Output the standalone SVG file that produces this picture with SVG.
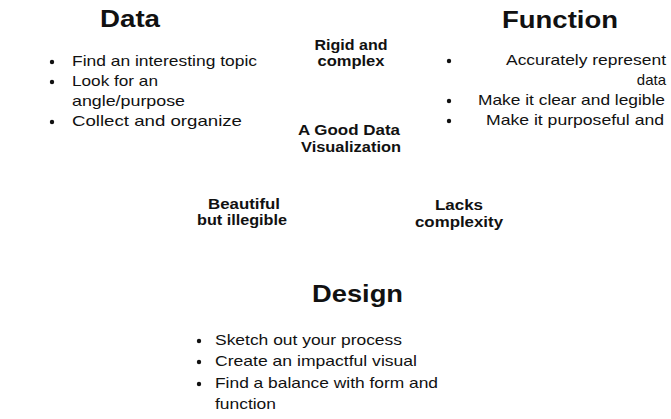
<svg xmlns="http://www.w3.org/2000/svg" width="671" height="419" viewBox="0 0 671 419">
<style>
text{font-family:"Liberation Sans",Arial,sans-serif;fill:#111}
.title{font-size:24px;font-weight:bold}
.body{font-size:15px}
.mid{font-size:14px;font-weight:bold;text-anchor:middle}
.bul{fill:#111}
</style>
<rect width="671" height="419" fill="#fff"/>
<g id="data">
<text class="title" x="100" y="27" textLength="60" lengthAdjust="spacingAndGlyphs">Data</text>
<circle class="bul" cx="52" cy="62" r="2.2"/>
<circle class="bul" cx="52" cy="82" r="2.2"/>
<circle class="bul" cx="52" cy="122" r="2.2"/>
<text class="body" x="72" y="66" textLength="185" lengthAdjust="spacingAndGlyphs">Find an interesting topic</text>
<text class="body" x="72" y="86" textLength="86" lengthAdjust="spacingAndGlyphs">Look for an</text>
<text class="body" x="72" y="106" textLength="113" lengthAdjust="spacingAndGlyphs">angle/purpose</text>
<text class="body" x="72" y="126" textLength="170" lengthAdjust="spacingAndGlyphs">Collect and organize</text>
</g>
<g id="function">
<text class="title" x="502" y="28" textLength="116" lengthAdjust="spacingAndGlyphs">Function</text>
<circle class="bul" cx="449" cy="61" r="2.2"/>
<circle class="bul" cx="449" cy="101" r="2.2"/>
<circle class="bul" cx="449" cy="121" r="2.2"/>
<text class="body" x="506" y="65" textLength="160" lengthAdjust="spacingAndGlyphs">Accurately represent</text>
<text class="body" x="666" y="85" text-anchor="end">data</text>
<text class="body" x="478" y="105" textLength="187" lengthAdjust="spacingAndGlyphs">Make it clear and legible</text>
<text class="body" x="486" y="125" textLength="178" lengthAdjust="spacingAndGlyphs">Make it purposeful and</text>
</g>
<g id="design">
<text class="title" x="312" y="302" textLength="91" lengthAdjust="spacingAndGlyphs">Design</text>
<circle class="bul" cx="199" cy="341" r="2.2"/>
<circle class="bul" cx="199" cy="362" r="2.2"/>
<circle class="bul" cx="199" cy="384" r="2.2"/>
<text class="body" x="215" y="345" textLength="187" lengthAdjust="spacingAndGlyphs">Sketch out your process</text>
<text class="body" x="215" y="366" textLength="202" lengthAdjust="spacingAndGlyphs">Create an impactful visual</text>
<text class="body" x="215" y="388" textLength="223" lengthAdjust="spacingAndGlyphs">Find a balance with form and</text>
<text class="body" x="215" y="409" textLength="61" lengthAdjust="spacingAndGlyphs">function</text>
</g>
<g id="rigid">
<text class="mid" x="351" y="50" textLength="73" lengthAdjust="spacingAndGlyphs">Rigid and</text>
<text class="mid" x="351" y="66" textLength="67" lengthAdjust="spacingAndGlyphs">complex</text>
</g>
<g id="center">
<text class="mid" x="349" y="135" textLength="102" lengthAdjust="spacingAndGlyphs">A Good Data</text>
<text class="mid" x="351" y="152" textLength="100" lengthAdjust="spacingAndGlyphs">Visualization</text>
</g>
<g id="beautiful">
<text class="mid" x="244" y="209" textLength="72" lengthAdjust="spacingAndGlyphs">Beautiful</text>
<text class="mid" x="242" y="225" textLength="90" lengthAdjust="spacingAndGlyphs">but illegible</text>
</g>
<g id="lacks">
<text class="mid" x="459" y="210" textLength="48" lengthAdjust="spacingAndGlyphs">Lacks</text>
<text class="mid" x="459" y="227" textLength="88" lengthAdjust="spacingAndGlyphs">complexity</text>
</g>
</svg>
